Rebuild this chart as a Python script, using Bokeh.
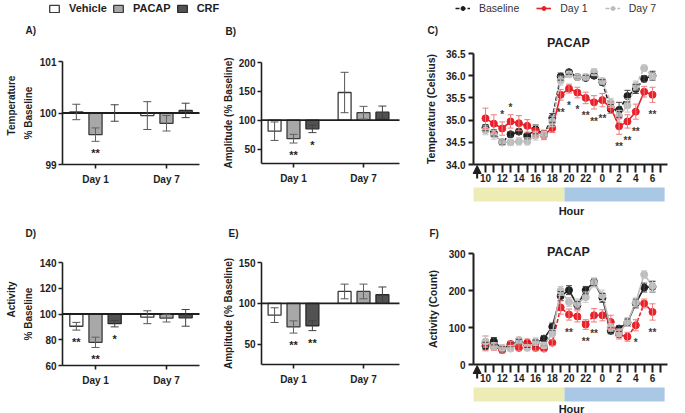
from bokeh.plotting import figure
from bokeh.layouts import row, column
from bokeh.models import (ColumnDataSource, Whisker, TeeHead, Legend, LegendItem, Label,
                          FixedTicker, NumeralTickFormatter, Range1d, Arrow, NormalHead)
from bokeh.embed import file_html
from bokeh.resources import INLINE
from bokeh.core.properties import value

FONT = "Liberation Sans"
INK = "#1e1e1e"

# ---------------- data ----------------
days = ["Day 1", "Day 7"]
groups = ["Vehicle", "PACAP", "CRF"]

# A) Temperature, % baseline
temp_vehicle = [100.02, 99.95]
temp_vehicle_err = [0.15, 0.27]
temp_pacap = [99.58, 99.80]
temp_pacap_err = [0.13, 0.15]
temp_crf = [100.00, 100.05]
temp_crf_err = [0.16, 0.14]
temp_star_group = ["PACAP"]
temp_star_day = ["Day 1"]
temp_star_text = ["**"]

# B) Temperature amplitude, % baseline
tamp_vehicle = [81, 148]
tamp_vehicle_err = [16, 35]
tamp_pacap = [68, 113]
tamp_pacap_err = [7.5, 11]
tamp_crf = [85, 114]
tamp_crf_err = [6.5, 10.5]
tamp_star_group = ["PACAP", "CRF"]
tamp_star_day = ["Day 1", "Day 1"]
tamp_star_text = ["**", "*"]

# D) Activity, % baseline
act_vehicle = [90.5, 97.5]
act_vehicle_err = [3, 5]
act_pacap = [78, 96.8]
act_pacap_err = [4, 3]
act_crf = [92.5, 97]
act_crf_err = [2.5, 6.5]
act_star_group = ["Vehicle", "PACAP", "CRF"]
act_star_day = ["Day 1", "Day 1", "Day 1"]
act_star_text = ["**", "**", "*"]

# E) Activity amplitude, % baseline
aamp_vehicle = [85.5, 114.5]
aamp_vehicle_err = [9, 9]
aamp_pacap = [71, 114.5]
aamp_pacap_err = [7.5, 9]
aamp_crf = [72.5, 110.5]
aamp_crf_err = [6, 9.5]
aamp_star_group = ["PACAP", "CRF"]
aamp_star_day = ["Day 1", "Day 1"]
aamp_star_text = ["**", "**"]

# C / F) hourly profiles (PACAP)
hours = [10, 11, 12, 13, 14, 15, 16, 17, 18, 19, 20, 21, 22, 23, 0, 1, 2, 3, 4, 5, 6]
injection_hour = 9
phase_names = ["light", "dark"]
phase_start = [8.56, 19.46]
phase_end = [19.46, 31.45]
phase_colors = ["#ececb4", "#a9c8e6"]

base_T = [34.83, 34.71, 34.50, 34.68, 34.74, 34.64, 34.79, 34.69, 35.05, 35.98, 36.08, 35.97,
          35.95, 36.00, 35.85, 35.25, 35.23, 35.54, 35.70, 35.93, 36.00]
base_T_err = [0.07, 0.07, 0.06, 0.06, 0.06, 0.06, 0.10, 0.08, 0.10, 0.08, 0.05, 0.05,
              0.06, 0.05, 0.06, 0.10, 0.17, 0.13, 0.10, 0.07, 0.10]
day1_T = [35.04, 34.92, 34.81, 34.97, 34.93, 34.87, 34.76, 34.66, 34.82, 35.57, 35.71, 35.62,
          35.50, 35.40, 35.45, 35.28, 34.86, 34.97, 35.19, 35.64, 35.57]
day1_T_err = [0.23, 0.20, 0.15, 0.15, 0.17, 0.14, 0.12, 0.10, 0.10, 0.12, 0.10, 0.12,
              0.13, 0.15, 0.15, 0.13, 0.18, 0.15, 0.17, 0.12, 0.17]
day7_T = [34.77, 34.67, 34.50, 34.50, 34.52, 34.52, 34.65, 34.67, 34.97, 35.89, 36.03, 35.97,
          35.97, 36.08, 35.88, 35.39, 35.09, 35.33, 35.78, 36.17, 35.99]
day7_T_err = [0.10, 0.10, 0.07, 0.07, 0.08, 0.08, 0.10, 0.07, 0.12, 0.10, 0.07, 0.06,
              0.07, 0.08, 0.07, 0.10, 0.13, 0.15, 0.10, 0.07, 0.07]
temp_line_star_hours = [12, 13, 19, 20, 21, 22, 23, 0, 2, 3, 4, 6]
temp_line_star_text = ["*", "*", "**", "*", "*", "**", "**", "**", "**", "**", "**", "**"]

base_A = [50, 63, 41, 55, 60, 54, 58, 70, 102, 185, 201, 160, 201, 223, 180, 91, 97, 113, 165, 208, 210]
base_A_err = [10, 10, 8, 6, 8, 8, 8, 8, 10, 12, 12, 10, 10, 10, 12, 8, 8, 10, 12, 12, 14]
day1_A = [57, 48, 39, 55, 45, 59, 45, 43, 59, 154, 135, 130, 108, 133, 133, 115, 81, 75, 106, 165, 142]
day1_A_err = [20, 10, 8, 8, 8, 10, 8, 8, 8, 18, 15, 15, 13, 18, 15, 18, 12, 12, 15, 12, 22]
day7_A = [62, 49, 45, 43, 66, 45, 62, 52, 84, 199, 169, 165, 182, 221, 187, 100, 86, 115, 168, 243, 212]
day7_A_err = [15, 10, 8, 8, 8, 8, 10, 8, 10, 12, 12, 12, 14, 12, 14, 10, 10, 12, 12, 10, 15]
act_line_star_hours = [20, 22, 23, 4, 6]
act_line_star_text = ["**", "**", "**", "*", "**"]

# ---------------- styling helpers ----------------
BAR_FILL = {"Vehicle": "#ffffff", "PACAP": "#a8a8a8", "CRF": "#525252"}
BAR_LINE = {"Vehicle": "#3a3a3a", "PACAP": "#3a3a3a", "CRF": "#2a2a2a"}
ERR_COL = {"Vehicle": "#555555", "PACAP": "#606060", "CRF": "#404040"}
OFFS = {"Vehicle": -0.27, "PACAP": 0.0, "CRF": 0.27}
BAR_W = 0.185


def make_fig(w, h, area, xr, yr):
    """Figure whose frame fills the canvas; area = plot-area edges (l, t, r, b) in px."""
    l, t, r, b = area
    kx = (xr[1] - xr[0]) / (r - l)
    ky = (yr[1] - yr[0]) / (b - t)
    p = figure(width=w, height=h,
               x_range=Range1d(xr[0] - l * kx, xr[1] + (w - r) * kx),
               y_range=Range1d(yr[0] - (h - b) * ky, yr[1] + t * ky),
               output_backend="svg", toolbar_location=None, min_border=0)
    p.title.visible = False
    p.xaxis.fixed_location = yr[0]
    p.xaxis.bounds = xr
    p.yaxis.fixed_location = xr[0]
    p.yaxis.bounds = yr
    p.xgrid.visible = False
    p.ygrid.visible = False
    p.outline_line_color = None
    p.background_fill_color = "white"
    p.border_fill_color = "white"
    return p, kx, ky


def style_axes(p, label_size="10px"):
    for ax in p.axis:
        ax.axis_line_color = INK
        ax.axis_line_width = 1.6
        ax.major_tick_line_color = INK
        ax.major_tick_line_width = 1.6
        ax.major_tick_out = 4
        ax.major_tick_in = 0
        ax.minor_tick_line_color = None
        ax.major_label_text_font = FONT
        ax.major_label_text_font_style = "bold"
        ax.major_label_text_font_size = "10px"
        ax.major_label_text_color = INK
        ax.major_label_standoff = 2
        ax.axis_label_text_font = FONT
        ax.axis_label_text_font_style = "bold"
        ax.axis_label_text_font_size = label_size
        ax.axis_label_text_color = INK
        ax.axis_label_standoff = 3


def add_text(p, text, x, y, size="10px", align="left", angle=0, bold=True, color=INK):
    p.add_layout(Label(x=x, y=y, x_units="screen", y_units="screen", text=text,
                       text_font=FONT, text_font_style="bold" if bold else "normal",
                       text_font_size=size, text_color=color, text_baseline="middle",
                       text_align=align, angle=angle, angle_units="deg"))


def bar_panel(w, h, area, xr, yr, yticks, data, star_group, star_day, star_text,
              ylabel, letter, letter_xy, ylabel2=None, ylabel2_xy=None, legend_xy=None,
              ylabel_standoff=3):
    p, kx, ky = make_fig(w, h, area, xr, yr)
    rends = {}
    for g in groups:
        mean, err = data[g]
        xs = [i + 1 + OFFS[g] for i in range(len(days))]
        src = ColumnDataSource(dict(x=xs, top=mean,
                                    upper=[m + e for m, e in zip(mean, err)],
                                    lower=[m - e for m, e in zip(mean, err)]))
        rends[g] = p.vbar(x="x", width=BAR_W, top="top", bottom=100, source=src,
                          fill_color=BAR_FILL[g], line_color=BAR_LINE[g], line_width=1.3)
        p.add_layout(Whisker(source=src, base="x", upper="upper", lower="lower",
                             line_color=ERR_COL[g], line_width=1, level="glyph",
                             upper_head=TeeHead(size=8, line_color=ERR_COL[g], line_width=1),
                             lower_head=TeeHead(size=8, line_color=ERR_COL[g], line_width=1)))
    # 100 % reference line across the axis extent
    p.segment(x0=[xr[0]], x1=[xr[1]], y0=[100], y1=[100], line_color=INK, line_width=1.8)

    sx, sy = [], []
    for g, d in zip(star_group, star_day):
        i = days.index(d)
        mean, err = data[g]
        sx.append(i + 1 + OFFS[g])
        sy.append(mean[i] - err[i])
    p.text(x=sx, y=sy, text=star_text, text_font=value(FONT), text_font_style="bold",
           text_font_size="11px", text_align="center", text_baseline="middle",
           y_offset=12, text_color=INK)

    p.xaxis.ticker = FixedTicker(ticks=[1, 2])
    p.xaxis.major_label_overrides = {i + 1: d for i, d in enumerate(days)}
    p.yaxis.ticker = FixedTicker(ticks=yticks)
    p.yaxis.axis_label = ylabel
    style_axes(p)
    p.xaxis.major_label_standoff = 5
    p.yaxis.major_label_standoff = 2
    p.yaxis.axis_label_standoff = ylabel_standoff
    add_text(p, letter, *letter_xy)
    if ylabel2:
        add_text(p, ylabel2, *ylabel2_xy, align="center", angle=90)
    if legend_xy:
        legend = Legend(items=[LegendItem(label=g, renderers=[rends[g]]) for g in groups],
                        location=legend_xy, orientation="horizontal",
                        glyph_width=12, glyph_height=9, label_standoff=9, spacing=5,
                        padding=0, margin=0, border_line_color=None, background_fill_alpha=0,
                        label_text_font=FONT, label_text_font_style="bold",
                        label_text_font_size="11px", label_text_color=INK)
        p.add_layout(legend)
    return p


def line_panel(w, h, area, xr, yr, yticks, fmt, series, star_hours, star_text,
               ylabel, ylabel_standoff, letter, letter_xy, title_xy, hour_xy, legend_xy=None):
    p, kx, ky = make_fig(w, h, area, xr, yr)
    # light / dark phase bars under the axis
    p.quad(left=phase_start, right=phase_end,
           top=yr[0] - 23 * ky, bottom=yr[0] - 37 * ky,
           fill_color=phase_colors, line_color=None)
    xh = [10 + i for i in range(len(hours))]
    items = []
    for name, vals, errs, color, ecolor, dash in series:
        src = ColumnDataSource(dict(x=xh, y=vals,
                                    upper=[v + e for v, e in zip(vals, errs)],
                                    lower=[v - e for v, e in zip(vals, errs)]))
        p.add_layout(Whisker(source=src, base="x", upper="upper", lower="lower",
                             line_color=ecolor, line_width=1, level="glyph",
                             upper_head=TeeHead(size=6, line_color=ecolor, line_width=1),
                             lower_head=TeeHead(size=6, line_color=ecolor, line_width=1)))
        lr = p.line("x", "y", source=src, line_color=color, line_width=1.6, line_dash=dash)
        sr = p.scatter("x", "y", source=src, size=7, marker="circle",
                       fill_color=color, line_color=color)
        items.append(LegendItem(label=name, renderers=[lr, sr]))

    base_vals, d1_vals, d1_errs = series[0][1], series[1][1], series[1][2]
    sx, sy, soff = [], [], []
    for hh in star_hours:
        i = hours.index(hh)
        sx.append(10 + i)
        if d1_vals[i] > base_vals[i]:
            sy.append(d1_vals[i] + d1_errs[i])
            soff.append(-7)
        else:
            sy.append(d1_vals[i] - d1_errs[i])
            soff.append(12)
    p.text(x=sx, y=sy, text=star_text, y_offset=soff, text_font=value(FONT),
           text_font_style="bold", text_font_size="10px", text_align="center",
           text_baseline="middle", text_color="#3a3a3a")

    p.add_layout(Arrow(end=NormalHead(size=8, fill_color=INK, line_color=INK, line_width=1),
                       x_start=injection_hour, y_start=yr[0] - 14 * ky,
                       x_end=injection_hour, y_end=yr[0] - 1 * ky,
                       line_color=INK, line_width=2))

    p.xaxis.ticker = FixedTicker(ticks=list(range(10, 32)))
    overrides = {10 + i: (str(hh) if hh % 2 == 0 else "") for i, hh in enumerate(hours)}
    overrides[31] = ""
    p.xaxis.major_label_overrides = overrides
    p.yaxis.ticker = FixedTicker(ticks=yticks)
    if fmt:
        p.yaxis.formatter = NumeralTickFormatter(format=fmt)
    p.yaxis.axis_label = ylabel
    style_axes(p, label_size="10.5px")
    p.xaxis.major_tick_out = 8
    p.xaxis.major_tick_line_width = 2
    p.xaxis.axis_line_width = 2
    p.xaxis.major_label_standoff = 1
    p.yaxis.axis_line_width = 2
    p.yaxis.major_tick_line_width = 2
    p.yaxis.major_tick_out = 5
    p.yaxis.major_label_standoff = 3
    p.yaxis.axis_label_standoff = ylabel_standoff

    add_text(p, letter, *letter_xy)
    add_text(p, "PACAP", *title_xy, size="12.5px", align="center")
    add_text(p, "Hour", *hour_xy, size="11px", align="center")
    if legend_xy:
        legend = Legend(items=items, location=legend_xy, orientation="horizontal",
                        glyph_width=15, glyph_height=10, label_standoff=9, spacing=17,
                        padding=0, margin=0, border_line_color=None, background_fill_alpha=0,
                        label_text_font=FONT, label_text_font_size="10.5px",
                        label_text_color="#333333")
        p.add_layout(legend)
    return p


# ---------------- panels ----------------
temp_data = {"Vehicle": (temp_vehicle, temp_vehicle_err), "PACAP": (temp_pacap, temp_pacap_err),
             "CRF": (temp_crf, temp_crf_err)}
tamp_data = {"Vehicle": (tamp_vehicle, tamp_vehicle_err), "PACAP": (tamp_pacap, tamp_pacap_err),
             "CRF": (tamp_crf, tamp_crf_err)}
act_data = {"Vehicle": (act_vehicle, act_vehicle_err), "PACAP": (act_pacap, act_pacap_err),
            "CRF": (act_crf, act_crf_err)}
aamp_data = {"Vehicle": (aamp_vehicle, aamp_vehicle_err), "PACAP": (aamp_pacap, aamp_pacap_err),
             "CRF": (aamp_crf, aamp_crf_err)}

W1, W2, W3 = 220, 200, 265
H1, H2 = 217, 196
XR_BAR_A = (0.535, 2.465)
XR_BAR_B = (0.543, 2.514)
XR_HOUR = (8.563, 31.796)
B0 = 261 - W1  # left edge of the B/E plot areas inside their figures

pA = bar_panel(W1, H1, (62, 61, 199, 164), XR_BAR_A, (99, 101), [99, 100, 101], temp_data,
               temp_star_group, temp_star_day, temp_star_text,
               "% Baseline", "A)", (25, H1 - 30),
               ylabel2="Temperature", ylabel2_xy=(11, H1 - 105), legend_xy=(48, H1 - 14))
pB = bar_panel(W2, H1, (B0, 62, B0 + 138, 163), XR_BAR_B, (25, 200), [50, 100, 150, 200],
               tamp_data, tamp_star_group, tamp_star_day, tamp_star_text,
               "Amplitude (% Baseline)", "B)", (225 - W1, H1 - 31), ylabel_standoff=2)

temp_series = [("Baseline", base_T, base_T_err, "#1e1e1e", "#444444", "4 2"),
               ("Day 1", day1_T, day1_T_err, "#e8202a", "#f07a7a", "solid"),
               ("Day 7", day7_T, day7_T_err, "#bdbdbd", "#c8c8c8", "4 2")]
pC = line_panel(W3, H1, (53, 53, 247, 164), XR_HOUR, (34.0, 36.5),
                [34.0, 34.5, 35.0, 35.5, 36.0, 36.5], "0.0", temp_series,
                temp_line_star_hours, temp_line_star_text,
                "Temperature (Celsius)", 6, "C)", (7, H1 - 30), (148, H1 - 42), (151, H1 - 210),
                legend_xy=(35, H1 - 14))

pD = bar_panel(W1, H2, (62, 45, 199, 148), XR_BAR_A, (60, 140), [60, 80, 100, 120, 140], act_data,
               act_star_group, act_star_day, act_star_text,
               "% Baseline", "D)", (25, H2 - 16),
               ylabel2="Activity", ylabel2_xy=(11, H2 - 82))
pE = bar_panel(W2, H2, (B0, 45, B0 + 138, 147), XR_BAR_B, (25, 150), [50, 100, 150], aamp_data,
               aamp_star_group, aamp_star_day, aamp_star_text,
               "Amplitude (% Baseline)", "E)", (228 - W1, H2 - 16), ylabel_standoff=2)

act_series = [("Baseline", base_A, base_A_err, "#1e1e1e", "#444444", "solid"),
              ("Day 1", day1_A, day1_A_err, "#e8202a", "#f07a7a", "4 2"),
              ("Day 7", day7_A, day7_A_err, "#bdbdbd", "#c8c8c8", "solid")]
pF = line_panel(W3, H2, (53, 36, 247, 147), XR_HOUR, (0, 300), [0, 100, 200, 300], None,
                act_series, act_line_star_hours, act_line_star_text,
                "Activity (Count)", 7, "F)", (9, H2 - 16), (148, H2 - 34), (151, H2 - 191))

layout = column(row(pA, pB, pC, spacing=0), row(pD, pE, pF, spacing=0), spacing=0)

open("out.html", "w").write(file_html(layout, INLINE))
